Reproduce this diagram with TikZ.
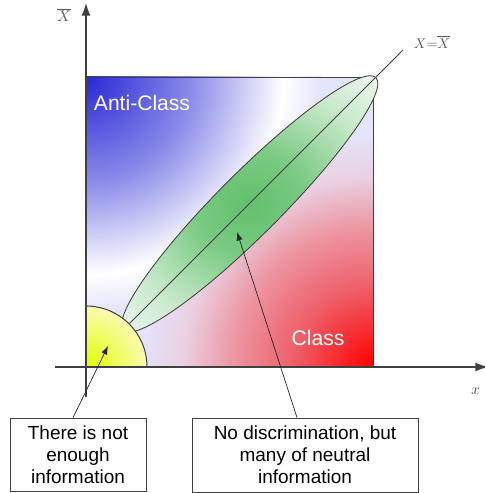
\documentclass[tikz,border=0pt]{standalone}
\usepackage{fontspec}
\setmainfont{Liberation Sans}
\usetikzlibrary{arrows.meta}
\definecolor{AntiBlue}{RGB}{40,40,215}
\definecolor{Lavender}{RGB}{228,228,252}
\definecolor{PinkLav}{RGB}{234,208,225}
\definecolor{ClassPink}{RGB}{236,150,162}
\definecolor{ClassRed}{RGB}{238,95,105}
\definecolor{EllGreen}{RGB}{98,192,108}
\definecolor{EllPale}{RGB}{238,247,240}
\definecolor{YelCore}{RGB}{225,255,0}
\definecolor{YelPale}{RGB}{250,250,178}
\pgfdeclareradialshading{antiblob}{\pgfpoint{0bp}{0bp}}{color(0bp)=(AntiBlue);
  color(11bp)=(AntiBlue!55!white); color(21bp)=(white); color(25bp)=(Lavender);
  color(50bp)=(Lavender)}
\pgfdeclareradialshading{classblob}{\pgfpoint{0bp}{0bp}}{color(0bp)=(red);
  color(8.5bp)=(ClassRed); color(14.9bp)=(ClassPink); color(20.2bp)=(PinkLav);
  color(25bp)=(Lavender); color(50bp)=(Lavender)}
\pgfdeclareradialshading{neutral}{\pgfpoint{0bp}{0bp}}{color(0bp)=(EllGreen);
  color(10bp)=(EllGreen!85!white); color(24bp)=(EllGreen!35!white);
  color(35bp)=(EllPale); color(50bp)=(EllPale)}

\begin{document}
\begin{tikzpicture}[
  axis/.style  = {draw=black!75, line width=1pt, -{Latex[length=9pt, width=6.5pt]}},
  edge/.style  = {draw=black!75, line width=0.7pt},
  lbl/.style   = {text=white, font=\fontsize{15}{18}\selectfont},
  mlbl/.style  = {text=black!65, font=\fontsize{11}{13}\selectfont},
  note/.style  = {draw=black!75, fill=white, line width=0.6pt, align=center,
                  font=\fontsize{13.5}{15.6}\selectfont, inner sep=0pt},
  ptr/.style   = {draw=black!85, line width=0.5pt, -{Latex[length=6pt, width=4.5pt]}},
]
\useasboundingbox (-2.15,-3.15) rectangle (9.975,9.175);

% background square
\begin{scope}
  \clip (0,0) rectangle (7.175,7.25);
  \fill[Lavender] (0,0) rectangle (7.175,7.25);
  \shade[shading=classblob] (7.175,0) circle (5.875);
  \shade[shading=antiblob] (0,7.25) circle (5.875);
\end{scope}
\draw[edge] (0,7.25) -- (7.175,7.25) -- (7.175,0);

% neutral region
\shade[rotate around={45:(4.095,4.08)}, shading=neutral]
  (4.095,4.08) ellipse (4.46 and 0.78);
\draw[edge, line width=0.6pt, rotate around={45:(4.095,4.08)}]
  (4.095,4.08) ellipse (4.46 and 0.78);

\coordinate (O) at (0,0);
\coordinate (diagEnd) at (7.925,7.925);
\draw[edge, line width=0.6pt] (O) -- (diagEnd);

% not enough information
\begin{scope}
  \clip (0,0) rectangle (1.6,1.6);
  \shade[inner color=YelCore, outer color=YelPale] (0,0) circle (1.525);
\end{scope}
\draw[edge] (1.525,0) arc (0:90:1.525);

\draw[axis] (0,-0.75) -- (0,9.1);
\draw[axis] (-0.775,0) -- (10.05,0);

\node[mlbl] (xbar)  at (-0.55,8.8) {$\overline{X}$};
\node[mlbl, anchor=east] (xlab) at (9.975,-0.6) {$x$};
\node[mlbl, font=\fontsize{10}{12}\selectfont] (diag) at (8.65,8.125) {$X{=}\overline{X}$};

\node[lbl] (anti)  at (1.4,6.6)   {Anti-Class};
\node[lbl] (class) at (5.8,0.725) {Class};

\node[note, minimum width=3.4cm, minimum height=1.825cm] (note1) at (-0.2,-2.19)
  {There is not\\enough\\information};
\node[note, minimum width=5.65cm, minimum height=1.85cm] (note2) at (5.475,-2.2)
  {No discrimination, but\\many of neutral\\information};

\coordinate (yelTip) at (0.55,0.525);
\coordinate (ellTip) at (3.775,3.375);
\draw[ptr] ([xshift=-1.25mm]note1.north) -- (yelTip);
\draw[ptr] ([xshift=-2mm]note2.north) -- (ellTip);

\end{tikzpicture}
\end{document}
